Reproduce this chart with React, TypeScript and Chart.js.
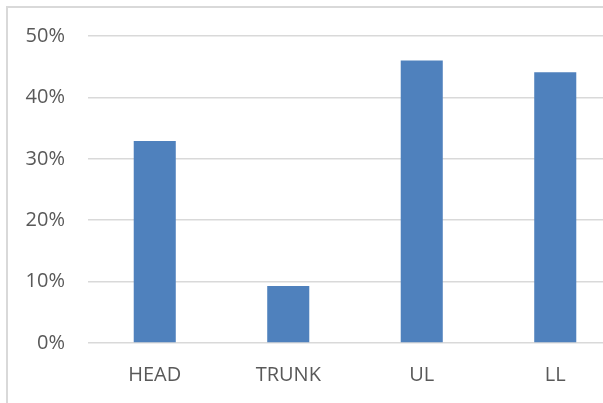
import React, { useEffect, useRef } from "react";
import { Chart, registerables } from "chart.js";

Chart.register(...registerables);

const categories = ["HEAD", "TRUNK", "UL", "LL"];
const values = [32.9, 9.3, 46.0, 44.1];
const yMax = 50;
const yStep = 10;

export default function App() {
  const ref = useRef<HTMLCanvasElement | null>(null);

  useEffect(() => {
    document.body.style.margin = "0";
    document.body.style.overflow = "hidden";
    const ctx = ref.current!;
    const font = { family: "'Open Sans', 'Noto Sans', sans-serif", size: 20 };
    const chart = new Chart(ctx, {
      type: "bar",
      data: {
        labels: categories,
        datasets: [
          {
            data: values,
            backgroundColor: "#4F81BD",
            borderWidth: 0,
            barPercentage: 1,
            categoryPercentage: 0.315,
          },
        ],
      },
      options: {
        animation: false,
        responsive: false,
        maintainAspectRatio: false,
        devicePixelRatio: 1,
        layout: { padding: { top: 36, right: 3, bottom: 0, left: 0 } },
        plugins: { legend: { display: false }, tooltip: { enabled: false } },
        scales: {
          x: {
            grid: { display: false, drawTicks: false },
            border: { display: false },
            ticks: { color: "#595959", font, padding: 20, maxRotation: 0 },
            afterFit: (s: any) => {
              s.height = 60;
            },
          },
          y: {
            min: 0,
            max: yMax,
            grid: { color: "#d9d9d9", lineWidth: 1.5, drawTicks: false },
            border: { display: false },
            ticks: {
              stepSize: yStep,
              color: "#595959",
              font,
              padding: 23,
              callback: (v: any) => `${v}%`,
            },
            afterFit: (s: any) => {
              s.width = 88;
            },
          },
        },
      },
    });
    return () => chart.destroy();
  }, []);

  return (
    <div
      style={{
        position: "fixed",
        left: 0,
        top: 0,
        width: "100vw",
        height: "100vh",
        overflow: "hidden",
        background: "#fff",
      }}
    >
      <div
        style={{
          position: "absolute",
          left: 6,
          top: 6,
          width: 900,
          height: 700,
          border: "2px solid #d9d9d9",
          boxSizing: "border-box",
        }}
      />
      <canvas
        ref={ref}
        width={625}
        height={403}
        style={{ position: "absolute", left: 0, top: 0, width: 625, height: 403 }}
      />
    </div>
  );
}
